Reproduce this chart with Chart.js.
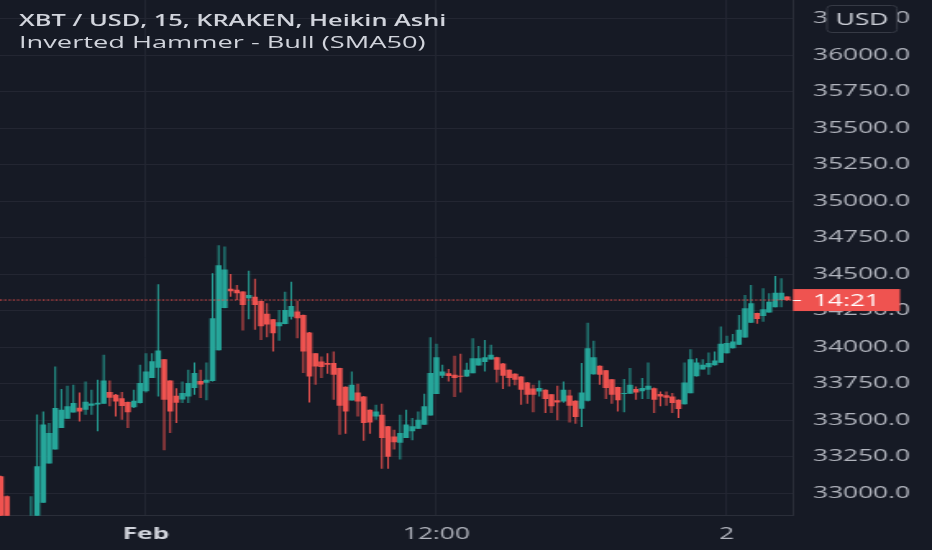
<!DOCTYPE html>
<html>
<head>
<meta charset="utf-8">
<script src="https://cdn.jsdelivr.net/npm/chart.js@4.4.1/dist/chart.umd.min.js"></script>
<style>
html, body { margin: 0; padding: 0; background: #161a25; overflow: hidden; }
#wrap { position: relative; width: 932px; height: 550px; }
#c { position: absolute; left: 0; top: 0; }
.legend { position: absolute; left: 19px; transform-origin: 0 0;
  font-family: "Open Sans"; font-size: 16px; line-height: 16px; color: #d1d4dc; white-space: nowrap; }
</style>
</head>
<body>
<div id="wrap">
  <canvas id="c" width="568" height="550" style="width:932px;height:550px"></canvas>
  <div class="legend" style="top:12px;font-weight:600;transform:scaleX(1.585)">XBT / USD, 15, KRAKEN, Heikin Ashi</div>
  <div class="legend" style="top:34px;transform:scaleX(1.7)">Inverted Hammer - Bull (SMA50)</div>
</div>
<script>
// 15 min Heikin Ashi candles, index 0 = Feb 1 00:00
const firstIndex = -24;

const opens = [
  33118, 32981, 32830, 32795, 32765, 32780, 32810, 32935, 33205, 33300,
  33448, 33511, 33553, 33587, 33573, 33600, 33608, 33614, 33694, 33675,
  33652, 33625, 33590, 33619, 33700, 33790, 33860, 33918, 33773, 33668,
  33642, 33664, 33721, 33770, 33758, 33770, 33980, 34270, 34402, 34394,
  34382, 34336, 34347, 34318, 34230, 34193, 34145, 34160, 34210, 34246,
  34222, 34101, 33960, 33903, 33892, 33892, 33858, 33730, 33636, 33691,
  33664, 33573, 33527, 33539, 33459, 33390, 33346, 33380, 33425, 33442,
  33470, 33533, 33680, 33806, 33822, 33812, 33801, 33800, 33823, 33875,
  33900, 33916, 33932, 33890, 33847, 33820, 33800, 33760, 33718, 33697,
  33709, 33678, 33637, 33630, 33670, 33635, 33580, 33635, 33815, 33874,
  33843, 33782, 33729, 33680, 33683, 33714, 33700, 33710, 33720, 33680,
  33672, 33664, 33641, 33610, 33685, 33802, 33849, 33864, 33878, 33894,
  33959, 33994, 34017, 34068, 34168, 34235, 34215, 34238, 34275, 34324,
  34349
];
const highs = [
  33120, 32985, 32835, 32800, 32830, 32981, 33540, 33561, 33482, 33869,
  33714, 33737, 33744, 33691, 33766, 33710, 33778, 33949, 33773, 33680,
  33694, 33630, 33710, 33880, 33960, 33960, 34432, 33920, 33775, 33720,
  33766, 33846, 33896, 33846, 33896, 34507, 34700, 34690, 34502, 34427,
  34385, 34525, 34470, 34320, 34302, 34195, 34256, 34381, 34449, 34320,
  34225, 34105, 33962, 33937, 33960, 33971, 33860, 33732, 33835, 33751,
  33666, 33575, 33607, 33614, 33462, 33436, 33539, 33573, 33516, 33561,
  33682, 34070, 34024, 33880, 33851, 33942, 33956, 33894, 34063, 34010,
  34051, 34017, 33935, 33892, 33849, 33822, 33802, 33762, 33744, 33773,
  33711, 33680, 33737, 33766, 33710, 33637, 33892, 34169, 34046, 33875,
  33845, 33784, 33731, 33783, 33858, 33732, 33790, 33896, 33725, 33698,
  33698, 33687, 33643, 33896, 33987, 33926, 33919, 33964, 33971, 34142,
  34079, 34092, 34222, 34359, 34427, 34237, 34404, 34370, 34488, 34473,
  34350
];
const lows = [
  32800, 32790, 32700, 32680, 32740, 32760, 32800, 32935, 33205, 33300,
  33448, 33511, 33553, 33493, 33539, 33539, 33425, 33614, 33596, 33527,
  33505, 33448, 33585, 33615, 33690, 33790, 33664, 33295, 33414, 33482,
  33619, 33619, 33676, 33653, 33637, 33766, 33978, 34268, 34347, 34324,
  34115, 34193, 34120, 34051, 34070, 33971, 34046, 34158, 34190, 34063,
  33824, 33623, 33744, 33790, 33819, 33641, 33402, 33409, 33636, 33527,
  33360, 33409, 33505, 33168, 33168, 33300, 33232, 33380, 33364, 33440,
  33470, 33533, 33680, 33790, 33766, 33660, 33691, 33798, 33823, 33875,
  33835, 33916, 33760, 33714, 33732, 33740, 33607, 33614, 33555, 33664,
  33550, 33550, 33500, 33620, 33486, 33477, 33455, 33630, 33812, 33744,
  33646, 33614, 33561, 33555, 33683, 33641, 33646, 33646, 33550, 33596,
  33600, 33550, 33516, 33608, 33685, 33800, 33848, 33812, 33876, 33892,
  33958, 33992, 34016, 34066, 34166, 34161, 34176, 34237, 34274, 34275,
  34318
];
const closes = [
  32830, 32830, 32760, 32740, 32800, 32840, 33186, 33471, 33414, 33585,
  33573, 33596, 33619, 33560, 33628, 33615, 33620, 33773, 33655, 33630,
  33598, 33555, 33635, 33755, 33835, 33905, 33978, 33641, 33561, 33620,
  33688, 33755, 33824, 33745, 33778, 34199, 34563, 34534, 34385, 34370,
  34290, 34359, 34290, 34145, 34157, 34097, 34172, 34256, 34283, 34199,
  33971, 33801, 33869, 33865, 33880, 33812, 33600, 33561, 33744, 33630,
  33482, 33486, 33561, 33380, 33250, 33350, 33414, 33471, 33459, 33505,
  33596, 33824, 33933, 33835, 33803, 33790, 33798, 33846, 33926, 33926,
  33933, 33949, 33846, 33805, 33790, 33778, 33710, 33676, 33676, 33721,
  33646, 33596, 33623, 33710, 33600, 33523, 33691, 33994, 33933, 33812,
  33721, 33676, 33637, 33685, 33744, 33690, 33721, 33737, 33641, 33664,
  33655, 33619, 33578, 33760, 33919, 33896, 33880, 33892, 33910, 34024,
  34029, 34040, 34120, 34268, 34302, 34195, 34261, 34313, 34374, 34374,
  34324
];

const tickPositions = [0, 48, 96];
const tickLabels = ['Feb', '12:00', '2'];
const priceTicks = [33000, 33250, 33500, 33750, 34000, 34250, 34500, 34750,
  35000, 35250, 35500, 35750, 36000, 36250];
const priceMin = 32847, priceMax = 36379;

const UP = '#26a69a', DOWN = '#ef5350';
const SX = 932 / 568;

const colors = opens.map((o, i) => closes[i] >= o ? UP : DOWN);
const bodies = opens.map((o, i) => ({ x: i + firstIndex, y: [o, closes[i]] }));
const wicks = lows.map((l, i) => ({ x: i + firstIndex, y: [l, highs[i]] }));

const overlay = {
  id: 'overlay',
  afterDraw(chart) {
    const ctx = chart.ctx, area = chart.chartArea, y = chart.scales.y;
    const last = closes[closes.length - 1];
    const py = y.getPixelForValue(last);
    ctx.save();
    // dotted last price line
    ctx.strokeStyle = DOWN;
    ctx.lineWidth = 1;
    ctx.setLineDash([1.3, 1.3]);
    ctx.beginPath();
    ctx.moveTo(area.left, py);
    ctx.lineTo(area.right, py);
    ctx.stroke();
    ctx.setLineDash([]);
    // price badge
    ctx.fillStyle = DOWN;
    ctx.fillRect(793 / SX, py - 11, 107 / SX, 22);
    ctx.strokeStyle = '#ffffff';
    ctx.beginPath();
    ctx.moveTo(793 / SX, py + 0.5);
    ctx.lineTo(801 / SX, py + 0.5);
    ctx.stroke();
    ctx.fillStyle = '#ffffff';
    ctx.font = '16px "Open Sans"';
    ctx.textBaseline = 'middle';
    ctx.textAlign = 'left';
    ctx.fillText('14:21', 813 / SX, py + 1);
    // currency badge
    ctx.fillStyle = '#161a25';
    ctx.strokeStyle = '#363a45';
    ctx.beginPath();
    ctx.roundRect(827 / SX, 5.5, 70 / SX, 27, 3);
    ctx.fill();
    ctx.stroke();
    ctx.fillStyle = '#d1d4dc';
    ctx.textAlign = 'center';
    ctx.fillText('USD', 862 / SX, 20);
    ctx.restore();
  }
};

new Chart(document.getElementById('c'), {
  type: 'bar',
  data: {
    datasets: [
      { data: bodies, backgroundColor: colors, grouped: false, barPercentage: 0.95,
        categoryPercentage: 1, minBarLength: 1, borderWidth: 0 },
      { data: wicks, backgroundColor: colors, grouped: false, barPercentage: 0.26,
        categoryPercentage: 1, borderWidth: 0 }
    ]
  },
  options: {
    responsive: false,
    animation: false,
    devicePixelRatio: 1,
    layout: { padding: 0 },
    plugins: { legend: { display: false }, tooltip: { enabled: false } },
    scales: {
      x: {
        type: 'linear',
        min: -24.13,
        max: 106.94,
        offset: false,
        afterBuildTicks(s) { s.ticks = tickPositions.map(v => ({ value: v })); },
        afterFit(s) { s.height = 34.3; s.paddingLeft = 0; s.paddingRight = 0; },
        grid: { color: '#232632', drawTicks: false, offset: false },
        border: { color: '#2a2e39' },
        ticks: {
          padding: 9,
          maxRotation: 0,
          autoSkip: false,
          color: c => (c.tick && c.tick.value === 0) ? '#d1d4dc' : '#b2b5be',
          font: c => ({ family: 'Open Sans', size: 16,
            weight: (c.tick && c.tick.value === 0) ? '700' : '400' }),
          callback: v => {
            const k = tickPositions.indexOf(v);
            return k < 0 ? '' : tickLabels[k];
          }
        }
      },
      y: {
        position: 'right',
        min: priceMin,
        max: priceMax,
        afterBuildTicks(s) { s.ticks = priceTicks.map(v => ({ value: v })); },
        afterFit(s) { s.width = 568 - 793 / SX; s.paddingTop = 0; s.paddingBottom = 0; },
        grid: { color: '#232632', drawTicks: false },
        border: { color: '#2a2e39' },
        ticks: {
          autoSkip: false,
          padding: 12.2,
          color: '#b2b5be',
          font: { family: 'Open Sans', size: 16 },
          callback: v => v.toFixed(1)
        }
      }
    }
  },
  plugins: [overlay]
});
</script>
</body>
</html>
